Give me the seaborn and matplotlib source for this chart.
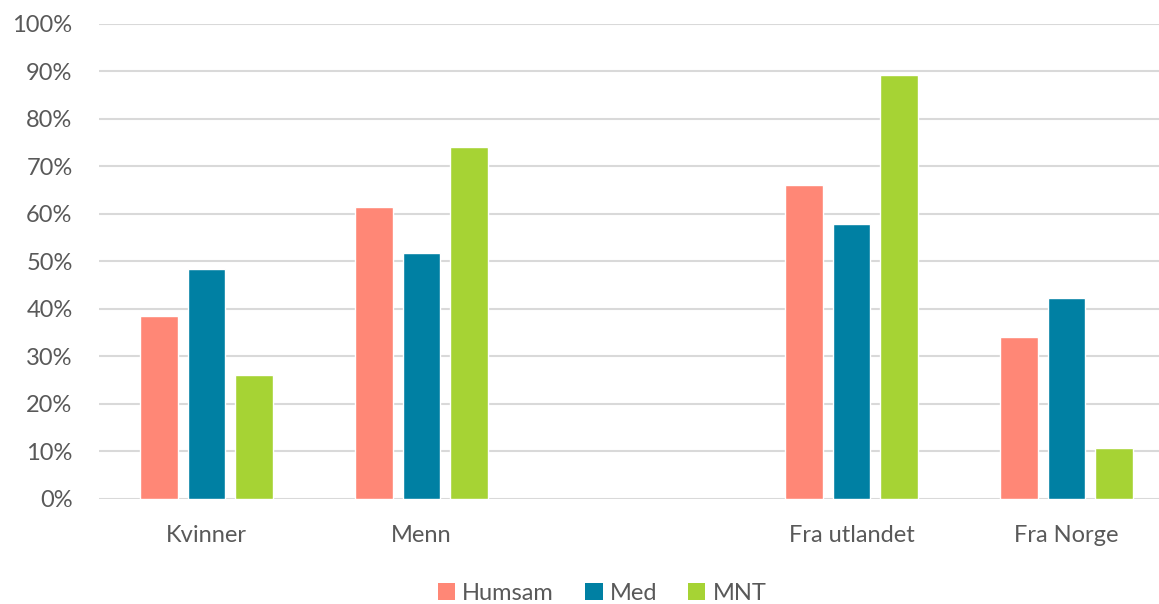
import matplotlib
matplotlib.use("Agg")
import matplotlib.pyplot as plt
import seaborn as sns
import pandas as pd
from matplotlib.ticker import PercentFormatter
from matplotlib.patches import Patch

categories = ["Kvinner", "Menn", " ", "Fra utlandet", "Fra Norge"]
data_categories = ["Kvinner", "Menn", "Fra utlandet", "Fra Norge"]
series = ["Humsam", "Med", "MNT"]
humsam = [38.5, 61.5, 66.0, 34.0]
med = [48.4, 51.7, 57.8, 42.3]
mnt = [26.0, 74.1, 89.3, 10.7]
colors = ["#FF8776", "#0080A3", "#A6D334"]
yticks = [0, 10, 20, 30, 40, 50, 60, 70, 80, 90, 100]

rows = []
for s, vals in zip(series, [humsam, med, mnt]):
    for c, v in zip(data_categories, vals):
        rows.append({"cat": c, "series": s, "val": v})
df = pd.DataFrame(rows)

sns.set_theme(style="white")
plt.rcParams["font.family"] = ["Lato", "DejaVu Sans"]

fig = plt.figure(figsize=(11.59, 6.04), dpi=100)
ax = fig.add_axes([99 / 1159, 1 - 498.5 / 604, 1075 / 1159, 474.5 / 604])

sns.barplot(data=df, x="cat", y="val", hue="series", order=categories,
            hue_order=series, palette=colors, width=0.663, gap=0.22,
            saturation=1, ax=ax, legend=False, errorbar=None)

ax.set_ylim(0, 100)
ax.set_xlim(-0.5, 4.5)
ax.set_yticks(yticks)
ax.yaxis.set_major_formatter(PercentFormatter(decimals=0))
ax.grid(axis="y", color="#D9D9D9", linewidth=1.5)
ax.set_axisbelow(True)
for sp in ax.spines.values():
    sp.set_visible(False)
ax.set_xlabel("")
ax.set_ylabel("")
ax.tick_params(axis="y", length=0, pad=19, labelsize=17, labelcolor="#595959")
ax.tick_params(axis="x", length=0, pad=19, labelsize=17, labelcolor="#595959")

handles = [Patch(facecolor=c, edgecolor="none") for c in colors]
fig.legend(handles, series, loc="center", bbox_to_anchor=(602 / 1159, 1 - 593 / 604),
           ncol=3, frameon=False, fontsize=17, handlelength=0.75, handleheight=0.75,
           handletextpad=0.3, columnspacing=1.3, labelcolor="#595959")

fig.savefig("out.png", dpi=100)
